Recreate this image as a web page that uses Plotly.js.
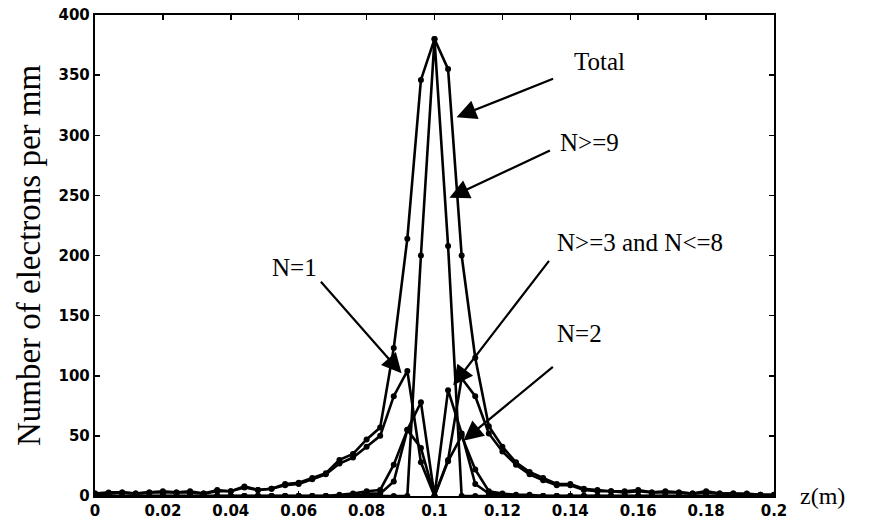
<!DOCTYPE html>
<html>
<head>
<meta charset="utf-8">
<script src="https://cdn.plot.ly/plotly-3.0.1.min.js"></script>
<style>body{margin:0;background:#fff;} #chart{width:871px;height:529px;}</style>
</head>
<body>
<div id="chart"></div>
<script>
// z positions (m)
const z = [0,0.004,0.008,0.012,0.016,0.02,0.024,0.028,0.032,0.036,0.04,
  0.044,0.048,0.052,0.056,0.06,0.064,0.068,0.072,0.076,0.08,0.084,
  0.088,0.092,0.096,0.1,0.104,0.108,0.112,0.116,0.12,0.124,0.128,
  0.132,0.136,0.14,0.144,0.148,0.152,0.156,0.16,0.164,0.168,0.172,
  0.176,0.18,0.184,0.188,0.192,0.196,0.2];

const total = [2,3,3,2,3,4,3,4,2,5,4,
  8,5,6,10,11,15,19,30,35,47,57,
  123,214,346,380,355,200,115,58,41,28,20,
  15,10,10,6,5,4,4,5,3,4,3,
  2,4,2,2,2,1,1];

const n1 = [2,2,3,2,3,3,3,3,2,4,4,
  7,5,6,9,10,14,18,27,32,41,50,
  83,104,28,0,30,98,83,52,37,26,18,
  13,9,9,5,4,4,3,4,3,3,3,
  2,3,2,2,1,1,1];

const n2 = [0,0,0,0,0,0,0,0,0,0,0,
  0,0,0,0,0,0,0,1,2,4,5,
  26,55,40,0,29,50,22,4,2,1,1,
  0,0,0,0,0,0,0,0,0,0,0,
  0,0,0,0,0,0,0];

const n3to8 = [0,0,0,0,0,0,0,0,0,0,0,
  0,0,0,0,0,0,0,0,0,2,2,
  12,55,78,0,88,52,10,2,1,0,0,
  0,0,0,0,0,0,0,0,0,0,0,
  0,0,0,0,0,0,0];

const n9 = [0,0,0,0,0,0,0,0,0,0,0,
  0,0,0,0,0,0,0,0,0,0,0,
  0,0,200,380,208,0,0,0,0,0,0,
  0,0,0,0,0,0,0,0,0,0,0,
  0,0,0,0,0,0,0];

const xTicks = [0,0.02,0.04,0.06,0.08,0.1,0.12,0.14,0.16,0.18,0.2];
const xTickText = ['0','0.02','0.04','0.06','0.08','0.1','0.12','0.14','0.16','0.18','0.2'];
const yTicks = [0,50,100,150,200,250,300,350,400];
const yTickText = ['0','50','100','150','200','250','300','350','400'];

const seriesList = [
  {name:'Total', y: total},
  {name:'N>=9', y: n9},
  {name:'N>=3 and N<=8', y: n3to8},
  {name:'N=2', y: n2},
  {name:'N=1', y: n1}
];

const traces = seriesList.map(s => ({
  type:'scatter', mode:'lines+markers', x: z, y: s.y, name: s.name,
  line:{color:'#000', width:2.6},
  marker:{color:'#000', size:6, symbol:'circle'},
  showlegend:false
}));

const serif = 'Liberation Serif, Times New Roman, serif';
const annFont = {family: serif, size: 25, color:'#000'};

// labels
const labels = [
  {text:'Total', x:0.1404, y:361, xanchor:'left'},
  {text:'N>=9', x:0.1363, y:294, xanchor:'left'},
  {text:'N=1', x:0.0661, y:190, xanchor:'right'},
  {text:'N>=3 and N<=8', x:0.1354, y:211, xanchor:'left'},
  {text:'N=2', x:0.1354, y:135, xanchor:'left'}
];
// arrows: tip in data coords, tail as pixel offset
const arrows = [
  {x:0.1065, y:315, ax:98, ay:-39},
  {x:0.1044, y:248, ax:102, ay:-48},
  {x:0.0903, y:102, ax:-82, ay:-93},
  {x:0.1055, y:92, ax:97, ay:-126},
  {x:0.1085, y:46, ax:91, ay:-75}
];

const annotations = [];
labels.forEach(l => annotations.push({
  xref:'x', yref:'y', x:l.x, y:l.y, text:l.text, showarrow:false,
  xanchor:l.xanchor, yanchor:'middle', font:annFont
}));
arrows.forEach(a => annotations.push({
  xref:'x', yref:'y', x:a.x, y:a.y, ax:a.ax, ay:a.ay, text:'',
  showarrow:true, arrowhead:2, arrowsize:1.8, arrowwidth:2.2, arrowcolor:'#000'
}));
annotations.push({
  xref:'paper', yref:'y', x:1, y:0, xanchor:'left', yanchor:'middle',
  xshift:24, text:'z(m)', showarrow:false, font:{family:serif, size:24, color:'#000'}
});

const tickFont = {family:'DejaVu Sans, Liberation Sans, sans-serif', size:15, color:'#000', weight:'bold'};

const layout = {
  width:871, height:529,
  margin:{l:95, r:97, t:15, b:33},
  paper_bgcolor:'#fff', plot_bgcolor:'#fff',
  showlegend:false,
  xaxis:{
    range:[0,0.2], tickvals:xTicks, ticktext:xTickText,
    ticks:'inside', ticklen:5, tickwidth:1.5, tickcolor:'#000',
    showline:true, linecolor:'#000', linewidth:2.2, mirror:'ticks',
    showgrid:false, zeroline:false, tickfont:tickFont, ticklabelstandoff:0
  },
  yaxis:{
    range:[0,400], tickvals:yTicks, ticktext:yTickText,
    ticks:'inside', ticklen:5, tickwidth:1.5, tickcolor:'#000',
    showline:true, linecolor:'#000', linewidth:2.2, mirror:'ticks',
    showgrid:false, zeroline:false, tickfont:tickFont,
    title:{text:'Number of electrons per mm', font:{family:serif, size:33, color:'#000'}, standoff:8}
  },
  annotations: annotations
};

Plotly.newPlot('chart', traces, layout, {displayModeBar:false, staticPlot:true});
</script>
</body>
</html>
